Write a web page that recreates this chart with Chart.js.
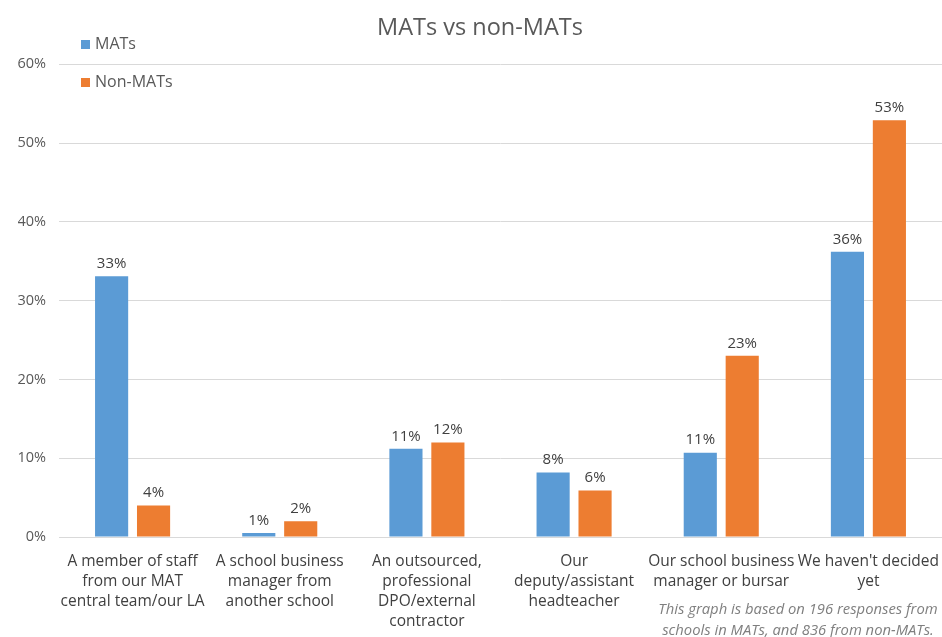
<!DOCTYPE html>
<html>
<head>
<meta charset="utf-8">
<script src="https://cdn.jsdelivr.net/npm/chart.js@4.4.1/dist/chart.umd.min.js"></script>
<style>
    html, body { margin: 0; padding: 0; background: #ffffff; }
    #wrap { width: 942px; height: 637px; }
</style>
</head>
<body>
<div id="wrap"><canvas id="matsChart"></canvas></div>
<script>
// Chart data
const categories = [
    ['A member of staff', 'from our MAT', 'central team/our LA'],
    ['A school business', 'manager from', 'another school'],
    ['An outsourced,', 'professional', 'DPO/external', 'contractor'],
    ['Our', 'deputy/assistant', 'headteacher'],
    ['Our school business', 'manager or bursar'],
    ["We haven't decided", 'yet']
];
const matsValues = [33.1, 0.5, 11.2, 8.2, 10.7, 36.2];
const nonMatsValues = [4.0, 2.0, 12.0, 5.9, 23.0, 52.9];
const yTicks = [0, 10, 20, 30, 40, 50, 60];
const footNote = ['This graph is based on 196 responses from', 'schools in MATs, and 836 from non-MATs.'];

const BLUE = '#5B9BD5';
const ORANGE = '#ED7D31';
const FONT = '"Open Sans", Lato, sans-serif';

// value labels above bars
const valueLabels = {
    id: 'valueLabels',
    afterDatasetsDraw(chart) {
        const c = chart.ctx;
        c.save();
        c.font = '15px ' + FONT;
        c.fillStyle = '#404040';
        c.textAlign = 'center';
        c.textBaseline = 'bottom';
        chart.data.datasets.forEach((ds, i) => {
            chart.getDatasetMeta(i).data.forEach((bar, j) => {
                c.fillText(Math.round(ds.data[j]) + '%', bar.x, bar.y - 5);
            });
        });
        c.restore();
    }
};

// stacked legend in the top-left corner + footnote
const extras = {
    id: 'extras',
    afterDraw(chart) {
        const c = chart.ctx;
        c.save();
        c.font = '16px ' + FONT;
        c.textBaseline = 'middle';
        const rows = [44, 82];
        chart.data.datasets.forEach((ds, i) => {
            c.fillStyle = ds.backgroundColor;
            c.fillRect(81, rows[i] - 4, 9, 9);
            c.fillStyle = '#595959';
            c.fillText(ds.label, 95, rows[i]);
        });
        c.font = 'italic 14.8px ' + FONT;
        c.fillStyle = '#7f7f7f';
        c.textAlign = 'center';
        c.fillText(footNote[0], 798, 610);
        c.fillText(footNote[1], 798, 631);
        c.restore();
    }
};

const ctx = document.getElementById('matsChart').getContext('2d');
const chart = new Chart(ctx, {
    type: 'bar',
    data: {
        labels: categories,
        datasets: [{
            label: 'MATs',
            data: matsValues,
            backgroundColor: BLUE,
            categoryPercentage: 0.57,
            barPercentage: 0.79
        }, {
            label: 'Non-MATs',
            data: nonMatsValues,
            backgroundColor: ORANGE,
            categoryPercentage: 0.57,
            barPercentage: 0.79
        }]
    },
    options: {
        responsive: true,
        maintainAspectRatio: false,
        animation: false,
        layout: {
            padding: { top: 0, left: 18, right: 0, bottom: 0 }
        },
        plugins: {
            legend: { display: false },
            tooltip: { enabled: false },
            title: {
                display: true,
                text: 'MATs vs non-MATs',
                color: '#595959',
                font: { family: FONT, size: 23.5, weight: 'normal' },
                padding: { top: 14, bottom: 22 }
            }
        },
        scales: {
            x: {
                grid: { display: false },
                border: { display: true, color: '#d9d9d9' },
                ticks: {
                    color: '#404040',
                    font: { family: FONT, size: 15.5, lineHeight: 1.29 },
                    padding: 7,
                    maxRotation: 0,
                    autoSkip: false
                },
                afterFit: function(scale) {
                    scale.height = 100;
                    // let the long labels run to the edge instead of shrinking the plot
                    scale.paddingLeft = 0;
                    scale.paddingRight = 0;
                }
            },
            y: {
                min: 0,
                max: 60,
                afterBuildTicks: function(scale) {
                    scale.ticks = yTicks.map(v => ({ value: v }));
                },
                grid: { color: '#d9d9d9', drawTicks: false },
                border: { display: false },
                ticks: {
                    color: '#595959',
                    font: { family: FONT, size: 14.5 },
                    padding: 13,
                    callback: function(value) {
                        return value + '%';
                    }
                },
                afterFit: function(scale) {
                    scale.width = 41;
                }
            }
        }
    },
    plugins: [valueLabels, extras]
});
</script>
</body>
</html>
